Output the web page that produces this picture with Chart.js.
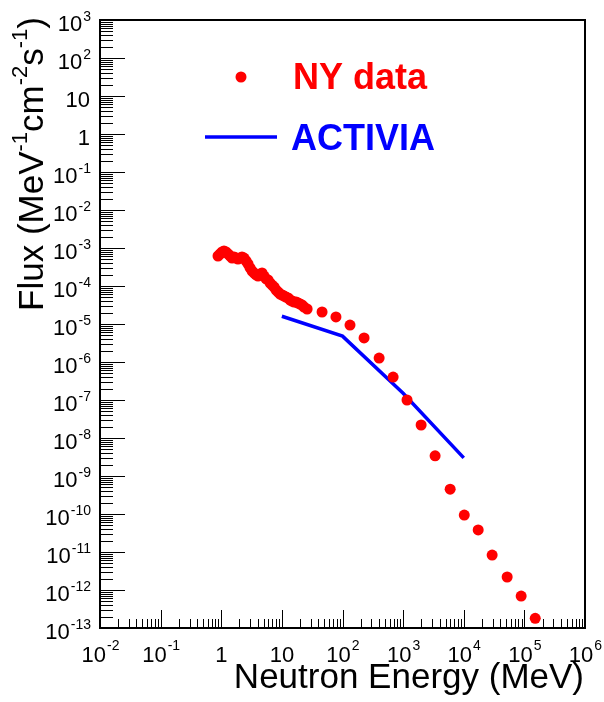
<!DOCTYPE html>
<html lang="en">
<head>
    <meta charset="UTF-8">
    <title>Neutron flux</title>
    <style>
        body { margin: 0; background: #fff; }
        #wrap { width: 604px; height: 702px; }
    </style>
</head>
<body>
    <div id="wrap">
        <canvas id="mychart" width="604" height="702"></canvas>
    </div>
    <script src="https://cdn.jsdelivr.net/npm/chart.js@4.4.0/dist/chart.umd.min.js"></script>
    <script>
        // NY data (MeV, flux)
        const nyEnergy = [0.885, 0.955, 1.03, 1.11, 1.2, 1.3, 1.4, 1.51, 1.63, 1.76, 1.89, 2.04, 2.2, 2.38, 2.57, 2.77,
            2.99, 3.22, 3.48, 3.75, 4.05, 4.37, 4.71, 5.09, 5.49, 5.92, 6.39, 6.89, 7.44, 8.02, 8.66, 9.34,
            10.1, 10.9, 11.7, 12.7, 13.7, 14.7, 15.9, 17.2, 18.5, 20.0, 21.5, 23.2,
            26.1, 46, 78, 133, 227, 402, 684, 1160, 1980, 3370, 5970, 10200, 17300, 29400, 52000, 88500, 151000]
        const nyFlux = [6.16e-4, 6.95e-4, 7.85e-4, 8.34e-4, 7.85e-4, 6.95e-4, 6.16e-4, 5.45e-4, 5.8e-4, 5.45e-4, 5.13e-4, 5.45e-4, 5.8e-4, 5.45e-4, 4.55e-4, 3.79e-4,
            2.98e-4, 2.48e-4, 2.2e-4, 1.95e-4, 1.83e-4, 2.07e-4, 2.2e-4, 1.83e-4, 1.53e-4, 1.44e-4, 1.2e-4, 1.06e-4, 9.41e-5, 7.85e-5, 6.95e-5, 6.16e-5,
            5.8e-5, 5.45e-5, 5.13e-5, 4.83e-5, 4.28e-5, 4.03e-5, 3.79e-5, 3.79e-5, 3.57e-5, 3.36e-5, 3.16e-5, 2.8e-5,
            2.48e-5, 2.07e-5, 1.53e-5, 9.4e-6, 4.3e-6, 1.27e-6, 4.0e-7, 1.0e-7, 2.2e-8, 3.4e-9, 4.5e-10, 9.4e-11, 3.8e-11, 8.3e-12, 2.2e-12, 6.9e-13, 1.8e-13]

        // ACTIVIA curve
        const actEnergy = [10, 100, 1000, 10000]
        const actFlux = [1.6e-5, 4.8e-6, 1.5e-7, 3.0e-9]

        // axis decades (exponents) for labels
        const xDecades = [-2, -1, 0, 1, 2, 3, 4, 5, 6]
        const yDecades = [3, 2, 1, 0, -1, -2, -3, -4, -5, -6, -7, -8, -9, -10, -11, -12, -13]

        const FONT = '"Liberation Sans", Arial, sans-serif'

        // splits a decade into base text and exponent text
        function decadeLabel(e) {
            if (e == 0) return ['1', '']
            if (e == 1) return ['10', '']
            return ['10', String(e)]
        }

        // frame, inside ticks, labels, titles, legend
        const rootStyle = {
            id: 'rootStyle',
            afterDatasetsDraw(chart) {
                const ctx = chart.ctx
                const a = chart.chartArea
                const xs = chart.scales.x
                const ys = chart.scales.y
                ctx.save()

                // ticks
                ctx.strokeStyle = '#000'
                ctx.lineWidth = 1
                ctx.beginPath()
                for (let d = -2; d <= 6; d++) {
                    for (let k = 1; k <= 9; k++) {
                        const v = k * Math.pow(10, d)
                        if (v > 1e6) break
                        const px = Math.round(xs.getPixelForValue(v)) + 0.5
                        const len = k == 1 ? 18 : 9
                        ctx.moveTo(px, a.bottom)
                        ctx.lineTo(px, a.bottom - len)
                    }
                }
                for (let d = -13; d <= 3; d++) {
                    for (let k = 1; k <= 9; k++) {
                        const v = k * Math.pow(10, d)
                        if (v > 1e3) break
                        const py = Math.round(ys.getPixelForValue(v)) + 0.5
                        const len = k == 1 ? 25 : 13
                        ctx.moveTo(a.left, py)
                        ctx.lineTo(a.left + len, py)
                    }
                }
                ctx.stroke()

                // frame
                ctx.lineWidth = 2
                ctx.strokeRect(a.left, a.top, a.right - a.left, a.bottom - a.top)

                // tick labels
                ctx.fillStyle = '#000'
                ctx.textBaseline = 'alphabetic'
                const baseFont = '22px ' + FONT
                const supFont = '14px ' + FONT

                yDecades.forEach((e) => {
                    const [b, s] = decadeLabel(e)
                    const py = ys.getPixelForValue(Math.pow(10, e))
                    ctx.font = supFont
                    const ws = s ? ctx.measureText(s).width : 0
                    ctx.font = baseFont
                    const wb = ctx.measureText(b).width
                    const x0 = 90 - ws - wb
                    ctx.textAlign = 'left'
                    ctx.fillText(b, x0, py + 11)
                    if (s) {
                        ctx.font = supFont
                        ctx.fillText(s, x0 + wb + 1, py + 1)
                    }
                })

                xDecades.forEach((e) => {
                    const [b, s] = decadeLabel(e)
                    const px = xs.getPixelForValue(Math.pow(10, e))
                    ctx.font = supFont
                    const ws = s ? ctx.measureText(s).width : 0
                    ctx.font = baseFont
                    const wb = ctx.measureText(b).width
                    const x0 = px - (wb + ws) / 2
                    ctx.textAlign = 'left'
                    ctx.fillText(b, x0, 662)
                    if (s) {
                        ctx.font = supFont
                        ctx.fillText(s, x0 + wb + 1, 650)
                    }
                })

                // x title
                ctx.font = '35px ' + FONT
                ctx.textAlign = 'right'
                ctx.fillText('Neutron Energy (MeV)', 584, 688)

                // y title, rotated, aligned to top of axis
                const parts = [['Flux (MeV', 0], ['-1', 1], ['cm', 0], ['-2', 1], ['s', 0], ['-1', 1], [')', 0]]
                const tFont = '35px ' + FONT
                const tSup = '22px ' + FONT
                let total = 0
                parts.forEach((p) => {
                    ctx.font = p[1] ? tSup : tFont
                    total += ctx.measureText(p[0]).width
                })
                ctx.translate(43, 17 + total)
                ctx.rotate(-Math.PI / 2)
                ctx.textAlign = 'left'
                let cx = 0
                parts.forEach((p) => {
                    ctx.font = p[1] ? tSup : tFont
                    ctx.fillText(p[0], cx, p[1] ? -16 : 0)
                    cx += ctx.measureText(p[0]).width
                })
                ctx.setTransform(1, 0, 0, 1, 0, 0)

                // legend
                ctx.fillStyle = '#ff0000'
                ctx.beginPath()
                ctx.arc(241, 77, 5.5, 0, Math.PI * 2)
                ctx.fill()
                ctx.font = 'bold 36px ' + FONT
                ctx.textAlign = 'left'
                ctx.fillText('NY data', 293, 89)

                ctx.strokeStyle = '#0000ff'
                ctx.lineWidth = 3.5
                ctx.beginPath()
                ctx.moveTo(205, 137)
                ctx.lineTo(277, 137)
                ctx.stroke()
                ctx.fillStyle = '#0000ff'
                ctx.fillText('ACTIVIA', 291, 150)

                ctx.restore()
            }
        }

        const nyPoints = nyEnergy.map((v, i) => ({x: v, y: nyFlux[i]}))
        const actPoints = actEnergy.map((v, i) => ({x: v, y: actFlux[i]}))

        new Chart(document.querySelector('#mychart'), {
            type: 'scatter',
            data: {
                datasets: [
                    {
                        label: 'NY data',
                        data: nyPoints,
                        pointRadius: 5.5,
                        pointBorderWidth: 0,
                        backgroundColor: '#ff0000',
                        borderColor: '#ff0000',
                    },
                    {
                        label: 'ACTIVIA',
                        data: actPoints,
                        showLine: true,
                        pointRadius: 0,
                        borderWidth: 3.5,
                        borderColor: '#0000ff',
                        backgroundColor: '#0000ff',
                    },
                ],
            },
            options: {
                responsive: false,
                animation: false,
                layout: {
                    padding: {left: 100, top: 20, right: 19, bottom: 74},
                },
                scales: {
                    x: {type: 'logarithmic', min: 1e-2, max: 1e6, display: false},
                    y: {type: 'logarithmic', min: 1e-13, max: 1e3, display: false},
                },
                plugins: {
                    legend: {display: false},
                    tooltip: {enabled: false},
                },
            },
            plugins: [rootStyle],
        })
    </script>
</body>
</html>
